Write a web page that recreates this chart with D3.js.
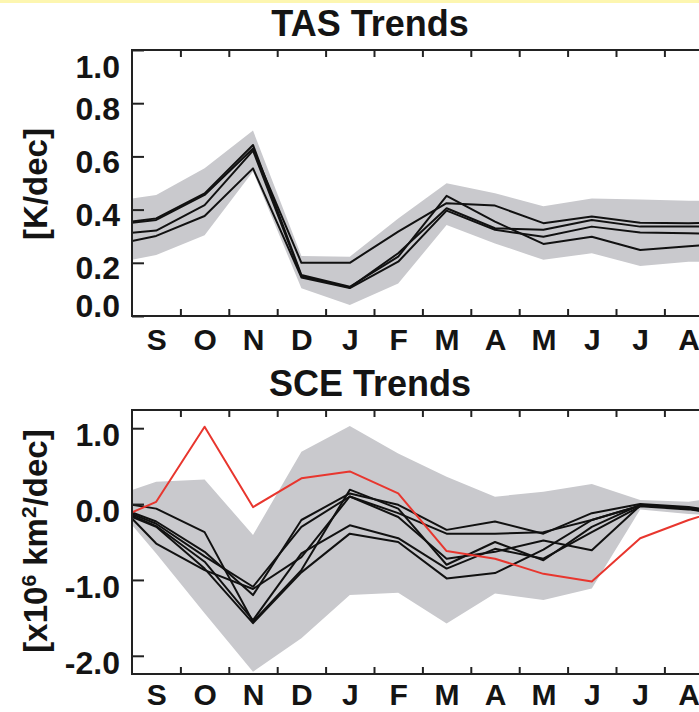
<!DOCTYPE html>
<html>
<head>
<meta charset="utf-8">
<script src="https://cdn.jsdelivr.net/npm/d3@7"></script>
<style>
body { margin: 0; background: #fff; }
svg { display: block; font-family: "Liberation Sans", Arial, sans-serif; font-weight: bold; }
</style>
</head>
<body>
<svg width="699" height="712"></svg>
<script>
var svg = d3.select('svg');

// month labels, Sep .. Aug
var months = ["S", "O", "N", "D", "J", "F", "M", "A", "M", "J", "J", "A"];

// every series: left frame edge, the 12 month centres, right frame edge
var xPos = [0].concat(months.map(function(m, i) { return i + 0.5; })).concat([12]);

// TAS trends [K/dec]
var tasTicks = [0.0, 0.2, 0.4, 0.6, 0.8, 1.0];
var tasBandHi = [0.442, 0.455, 0.555, 0.697, 0.226, 0.223, 0.367, 0.499, 0.461, 0.413, 0.442, 0.438, 0.433, 0.433];
var tasBandLo = [0.211, 0.229, 0.304, 0.543, 0.104, 0.041, 0.122, 0.342, 0.273, 0.211, 0.236, 0.188, 0.204, 0.204];
var tasLines = [
    [0.355, 0.367, 0.461, 0.643, 0.154, 0.110, 0.223, 0.452, 0.355, 0.271, 0.298, 0.248, 0.262, 0.270],
    [0.351, 0.361, 0.455, 0.630, 0.200, 0.200, 0.317, 0.424, 0.415, 0.349, 0.374, 0.351, 0.349, 0.351],
    [0.313, 0.321, 0.417, 0.622, 0.150, 0.107, 0.236, 0.405, 0.330, 0.324, 0.361, 0.336, 0.336, 0.336],
    [0.282, 0.301, 0.376, 0.555, 0.145, 0.105, 0.204, 0.396, 0.324, 0.298, 0.336, 0.314, 0.311, 0.310]
];

// SCE trends [x10^6 km^2/dec]
var sceTicks = [-2.0, -1.0, 0.0, 1.0];
var sceBandHi = [0.185, 0.294, 0.325, -0.408, 0.690, 1.030, 0.668, 0.360, 0.097, 0.163, 0.264, 0.053, 0.030, 0.075];
var sceBandLo = [-0.277, -0.650, -1.440, -2.210, -1.770, -1.200, -1.170, -1.573, -1.178, -1.265, -1.112, -0.070, -0.130, -0.150];
var sceLines = [
    [-0.01, -0.06, -0.37, -1.55, -0.87, 0.19, -0.06, -0.80, -0.50, -0.74, -0.30, -0.01, -0.05, -0.09],
    [-0.11, -0.23, -0.63, -1.20, -0.21, 0.14, -0.01, -0.34, -0.23, -0.39, -0.12, 0.00, -0.04, -0.08],
    [-0.13, -0.26, -0.69, -1.09, -0.30, 0.10, -0.12, -0.39, -0.39, -0.37, -0.21, -0.02, -0.06, -0.10],
    [-0.15, -0.29, -0.76, -1.53, -0.65, -0.28, -0.45, -0.85, -0.59, -0.72, -0.37, -0.03, -0.07, -0.11],
    [-0.17, -0.30, -0.85, -1.57, -0.90, -0.39, -0.50, -0.98, -0.91, -0.60, -0.21, -0.02, -0.06, -0.12],
    [-0.19, -0.52, -0.87, -1.12, -0.70, 0.10, -0.17, -0.72, -0.63, -0.48, -0.61, -0.02, -0.05, -0.10]
];
var sceObs = [-0.11, 0.03, 1.02, -0.04, 0.34, 0.43, 0.14, -0.62, -0.72, -0.92, -1.02, -0.45, -0.21, -0.11];

var left = 132, right = 132 + 12 * 48.4;
var x = d3.scaleLinear().domain([0, 12]).range([left, right]);

svg.append('rect').attr('width', 699).attr('height', 712).attr('fill', '#fff');
svg.append('rect').attr('width', 699).attr('height', 3).attr('fill', '#fdf6b0');

function drawPanel(p) {
    var y = d3.scaleLinear().domain(p.domain).range([p.bottom, p.top]);
    var g = svg.append('g');

    g.append('clipPath').attr('id', p.id)
        .append('rect')
        .attr('x', left).attr('y', p.top)
        .attr('width', right - left).attr('height', p.bottom - p.top);

    var plot = g.append('g').attr('clip-path', 'url(#' + p.id + ')');

    var area = d3.area()
        .x(function(d, i) { return x(xPos[i]); })
        .y0(function(d, i) { return y(p.lo[i]); })
        .y1(function(d) { return y(d); });
    plot.append('path').datum(p.hi)
        .attr('d', area)
        .attr('fill', '#c9c9cd');

    var line = d3.line()
        .x(function(d, i) { return x(xPos[i]); })
        .y(function(d) { return y(d); });

    plot.selectAll('.model')
        .data(p.lines)
        .enter()
        .append('path')
        .attr('class', 'model')
        .attr('d', line)
        .attr('fill', 'none')
        .attr('stroke', '#111')
        .attr('stroke-width', 2)
        .attr('stroke-linejoin', 'round');

    if (p.obs) {
        plot.append('path').datum(p.obs)
            .attr('d', line)
            .attr('fill', 'none')
            .attr('stroke', '#e8362e')
            .attr('stroke-width', 2)
            .attr('stroke-linejoin', 'round');
    }

    // inward ticks on top and bottom
    var inner = [1, 2, 3, 4, 5, 6, 7, 8, 9, 10, 11];
    g.append('g')
        .attr('transform', 'translate(0,' + p.top + ')')
        .call(d3.axisTop(x).tickValues(inner).tickSize(-7).tickFormat(''));
    g.append('g')
        .attr('transform', 'translate(0,' + p.bottom + ')')
        .call(d3.axisBottom(x).tickValues(inner).tickSize(-7).tickFormat(''));

    // month labels between the ticks
    g.append('g')
        .attr('class', 'months')
        .attr('transform', 'translate(0,' + p.bottom + ')')
        .call(d3.axisBottom(x).tickValues(xPos.slice(1, 13)).tickSize(0).tickPadding(p.monthPad)
            .tickFormat(function(d, i) { return months[i]; }));

    // y axis, plain hyphen for negative numbers
    var ya = g.append('g')
        .attr('class', 'yaxis')
        .attr('transform', 'translate(' + left + ',0)')
        .call(d3.axisLeft(y).tickValues(p.ticks).tickSize(-12).tickPadding(12)
            .tickFormat(function(d) { return d.toFixed(1); }));
    ya.selectAll('text').attr('dy', function(d) { return p.labelDy(d); });

    g.selectAll('.domain').remove();
    g.selectAll('.tick line').attr('stroke', '#222').attr('stroke-width', 2);
    g.selectAll('.tick text')
        .attr('fill', '#141414')
        .style('font-family', '"Liberation Sans", Arial, sans-serif')
        .style('font-weight', 'bold')
        .style('font-size', '32px');
    g.selectAll('.months .tick text').style('font-size', '30px');

    // frame
    g.append('rect')
        .attr('x', left).attr('y', p.top)
        .attr('width', right - left).attr('height', p.bottom - p.top)
        .attr('fill', 'none')
        .attr('stroke', '#222')
        .attr('stroke-width', 2);

    g.append('text')
        .text(p.title)
        .attr('x', 370).attr('y', p.titleY)
        .attr('text-anchor', 'middle')
        .attr('fill', '#141414')
        .style('font-size', '36px');

    var lab = g.append('text')
        .attr('transform', 'translate(47,' + p.labelY + ')rotate(-90)')
        .attr('text-anchor', 'middle')
        .attr('fill', '#141414')
        .style('font-size', '33px');
    p.label.forEach(function(part) {
        var t = lab.append('tspan').text(part[0]);
        if (part[1]) t.attr('baseline-shift', 'super').style('font-size', '21px');
    });
}

drawPanel({
    id: 'clipTas', top: 50, bottom: 316, domain: [0, 1],
    ticks: tasTicks, hi: tasBandHi, lo: tasBandLo, lines: tasLines,
    title: 'TAS Trends', titleY: 36, monthPad: 13,
    label: [['[K/dec]']], labelY: 184,
    labelDy: function(d) { return d === 1 ? '0.85em' : (d === 0 ? '0.03em' : '0.5em'); }
});

drawPanel({
    id: 'clipSce', top: 410, bottom: 674, domain: [-2.24, 1.24],
    ticks: sceTicks, hi: sceBandHi, lo: sceBandLo, lines: sceLines, obs: sceObs,
    title: 'SCE Trends', titleY: 396, monthPad: 10,
    label: [['[x10'], ['6', true], [' km'], ['2', true], ['/dec]']], labelY: 541,
    labelDy: function(d) { return '0.54em'; }
});
</script>
</body>
</html>
